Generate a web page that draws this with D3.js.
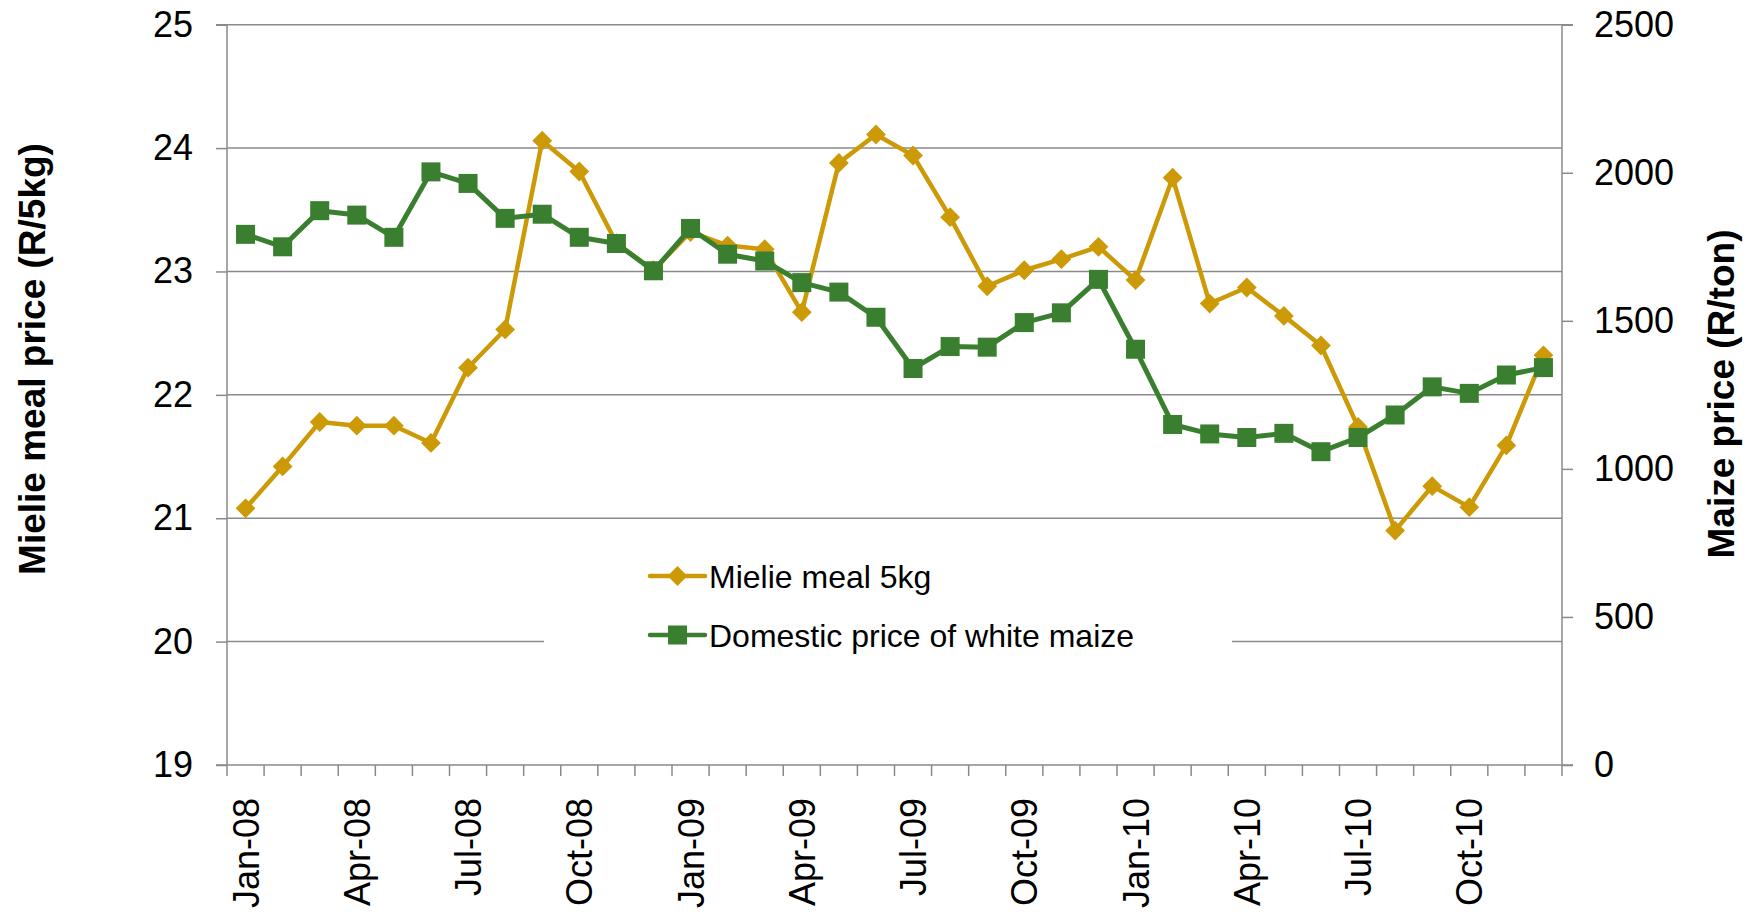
<!DOCTYPE html>
<html>
<head>
<meta charset="utf-8">
<script src="https://cdn.jsdelivr.net/npm/d3@7"></script>
<style>
  html, body { margin: 0; padding: 0; background: #fff; }
  svg { display: block; font-family: "Liberation Sans", Arial, Helvetica, sans-serif; }
</style>
</head>
<body>
<svg id="chart" width="1751" height="914"></svg>
<script>
const months = ["Jan-08","Feb-08","Mar-08","Apr-08","May-08","Jun-08","Jul-08","Aug-08","Sep-08","Oct-08","Nov-08","Dec-08",
                "Jan-09","Feb-09","Mar-09","Apr-09","May-09","Jun-09","Jul-09","Aug-09","Sep-09","Oct-09","Nov-09","Dec-09",
                "Jan-10","Feb-10","Mar-10","Apr-10","May-10","Jun-10","Jul-10","Aug-10","Sep-10","Oct-10","Nov-10","Dec-10"];
const mielieMeal = [21.08, 21.42, 21.78, 21.75, 21.75, 21.61, 22.22, 22.53, 24.06, 23.81, 23.23, 23.01,
                    23.32, 23.21, 23.18, 22.67, 23.88, 24.11, 23.94, 23.44, 22.88, 23.01, 23.10, 23.20,
                    22.93, 23.76, 22.74, 22.87, 22.64, 22.40, 21.74, 20.90, 21.26, 21.09, 21.59, 22.32];
const maizePrice = [1792, 1750, 1872, 1857, 1782, 2003, 1964, 1846, 1860, 1782, 1761, 1669,
                    1812, 1725, 1702, 1629, 1597, 1512, 1339, 1413, 1411, 1494, 1527, 1640,
                    1404, 1150, 1118, 1106, 1120, 1058, 1106, 1182, 1277, 1255, 1317, 1342];
const leftTicks = [19, 20, 21, 22, 23, 24, 25];
const rightTicks = [0, 500, 1000, 1500, 2000, 2500];
const xTickLabels = ["Jan-08","Apr-08","Jul-08","Oct-08","Jan-09","Apr-09","Jul-09","Oct-09","Jan-10","Apr-10","Jul-10","Oct-10"];
const seriesNames = ["Mielie meal 5kg", "Domestic price of white maize"];
const leftTitle = "Mielie meal price (R/5kg)";
const rightTitle = "Maize price (R/ton)";

const COL_Y = "#CC9A06", COL_G = "#3A7F2F", GRID = "#8a8a8a";
const L = 227, R = 1562, T = 24.7, B = 765;

const svg = d3.select("#chart");
const x = d3.scaleBand().domain(months).range([L, R]).padding(0);
const cx = m => x(m) + x.bandwidth() / 2;
const yL = d3.scaleLinear().domain([19, 25]).range([B, T]);
const yR = d3.scaleLinear().domain([0, 2500]).range([B, T]);

// gridlines
svg.append("g").selectAll("line").data(leftTicks.filter(v => v > 19)).join("line")
  .attr("x1", L).attr("x2", R).attr("y1", d => yL(d)).attr("y2", d => yL(d))
  .attr("stroke", GRID).attr("stroke-width", 1.5);

// legend background (covers grid)
svg.append("rect").attr("x", 544).attr("y", 545).attr("width", 688).attr("height", 135).attr("fill", "#fff");

// left axis
const gL = svg.append("g").attr("transform", `translate(${L},0)`)
  .call(d3.axisLeft(yL).tickValues(leftTicks).tickSize(11).tickPadding(23).tickFormat(d3.format("d")));
gL.selectAll("path,line").attr("stroke", GRID).attr("stroke-width", 1.5);
gL.select(".domain").attr("d", `M-11,${B}H0V${T}H-11`);
gL.selectAll("text").attr("font-size", 36).attr("fill", "#000").attr("font-family", "Liberation Sans, Arial, sans-serif");

// right axis
const gR = svg.append("g").attr("transform", `translate(${R},0)`)
  .call(d3.axisRight(yR).tickValues(rightTicks).tickSize(11).tickPadding(21).tickFormat(d3.format("d")));
gR.selectAll("path,line").attr("stroke", GRID).attr("stroke-width", 1.5);
gR.select(".domain").attr("d", `M11,${B}H0V${T}H11`);
gR.selectAll("text").attr("font-size", 36).attr("fill", "#000").attr("font-family", "Liberation Sans, Arial, sans-serif");

// bottom axis
const gB = svg.append("g");
gB.append("line").attr("x1", L).attr("x2", R).attr("y1", B).attr("y2", B).attr("stroke", GRID).attr("stroke-width", 1.5);
gB.selectAll("line.tk").data(months.map(m => x(m)).concat([R])).join("line").attr("class", "tk")
  .attr("x1", d => d).attr("x2", d => d).attr("y1", B).attr("y2", B + 11)
  .attr("stroke", GRID).attr("stroke-width", 1.5);
gB.selectAll("text").data(xTickLabels).join("text")
  .attr("transform", d => `translate(${cx(d)},${B + 33}) rotate(-90)`)
  .attr("text-anchor", "end").attr("dy", "0.36em")
  .attr("font-size", 36).attr("fill", "#000").text(d => d);

// axis titles
svg.append("text").attr("transform", `translate(45,359) rotate(-90)`)
  .attr("text-anchor", "middle").attr("font-size", 37).attr("font-weight", "bold").text(leftTitle);
svg.append("text").attr("transform", `translate(1734,394) rotate(-90)`)
  .attr("text-anchor", "middle").attr("font-size", 37).attr("font-weight", "bold").text(rightTitle);

// series
const diamond = d3.symbol().type(d3.symbolDiamond2).size(250);
const lineY = d3.line().x((d, i) => cx(months[i])).y(d => yL(d));
const lineG = d3.line().x((d, i) => cx(months[i])).y(d => yR(d));

svg.append("path").datum(mielieMeal).attr("d", lineY).attr("fill", "none")
  .attr("stroke", COL_Y).attr("stroke-width", 4.5).attr("stroke-linejoin", "round");
svg.append("g").selectAll("path").data(mielieMeal).join("path")
  .attr("d", diamond).attr("transform", (d, i) => `translate(${cx(months[i])},${yL(d)})`).attr("fill", COL_Y);

svg.append("path").datum(maizePrice).attr("d", lineG).attr("fill", "none")
  .attr("stroke", COL_G).attr("stroke-width", 5).attr("stroke-linejoin", "round");
svg.append("g").selectAll("rect").data(maizePrice).join("rect")
  .attr("x", (d, i) => cx(months[i]) - 9.5).attr("y", d => yR(d) - 9.5)
  .attr("width", 19).attr("height", 19).attr("fill", COL_G);

// legend
const leg = svg.append("g");
const legY = [576, 635];
[0, 1].forEach(k => {
  const col = k === 0 ? COL_Y : COL_G;
  leg.append("line").attr("x1", 650).attr("x2", 705).attr("y1", legY[k]).attr("y2", legY[k])
    .attr("stroke", col).attr("stroke-width", 4.5).attr("stroke-linecap", "round");
  if (k === 0) {
    leg.append("path").attr("d", diamond).attr("transform", `translate(677.5,${legY[k]})`).attr("fill", col);
  } else {
    leg.append("rect").attr("x", 668).attr("y", legY[k] - 9.5).attr("width", 19).attr("height", 19).attr("fill", col);
  }
  leg.append("text").attr("x", 709).attr("y", legY[k]).attr("dy", "0.36em")
    .attr("font-size", 32).attr("fill", "#000").text(seriesNames[k]);
});
</script>
</body>
</html>
